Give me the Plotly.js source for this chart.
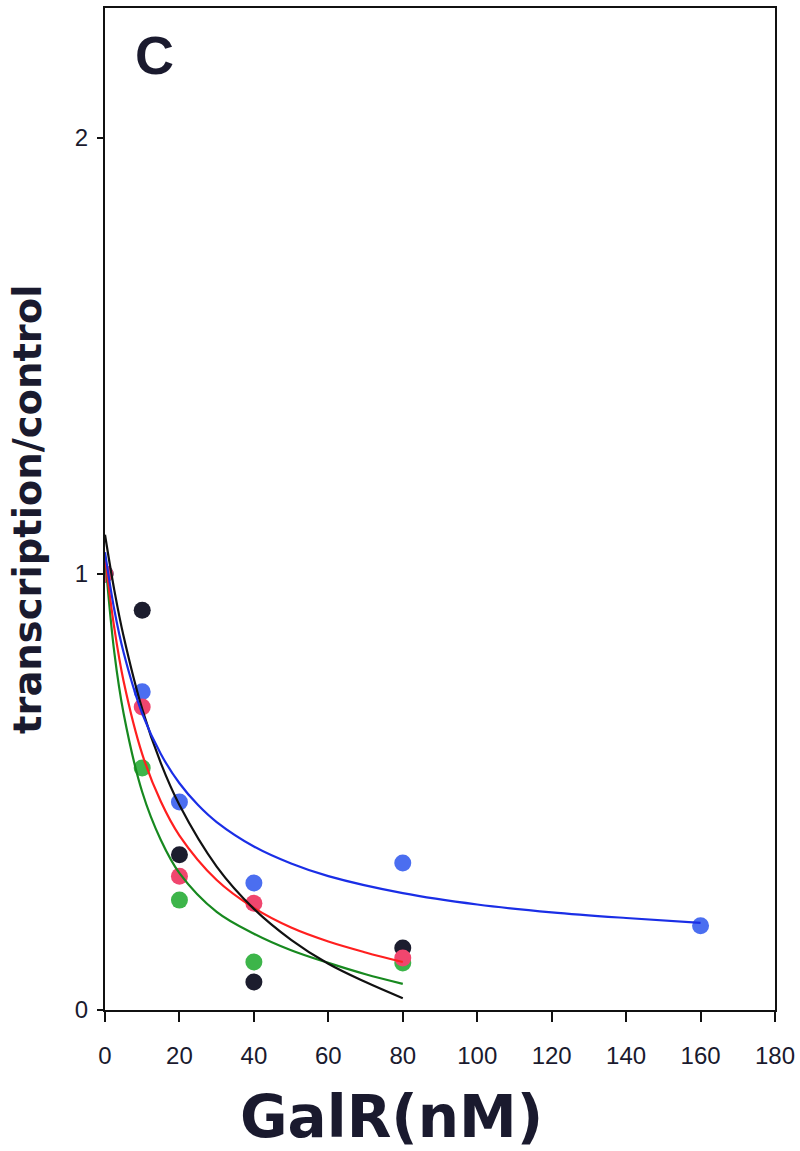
<!DOCTYPE html>
<html>
<head>
<meta charset="utf-8">
<script src="https://cdn.plot.ly/plotly-3.0.1.min.js"></script>
<style>html,body{margin:0;padding:0;background:#fff;}#chart{width:800px;height:1151px;}</style>
</head>
<body>
<div id="chart"></div>
<script>
// Measured data points (GalR concentration, nM)
var doseX = [0, 10, 20, 40, 80];
var doseXBlue = [0, 10, 20, 40, 80, 160];
var blueY  = [1.0, 0.73, 0.477, 0.291, 0.337, 0.193];
var redY   = [1.0, 0.695, 0.307, 0.245, 0.119];
var blackY = [1.0, 0.917, 0.356, 0.064, 0.142];
var greenY = [1.0, 0.555, 0.252, 0.110, 0.108];

// Fitted curves
var blueCurveX  = [0, 2.5, 5, 10, 15, 20, 25, 30, 40, 50, 60, 80, 100, 120, 140, 160];
var blueCurveY  = [1.05, 0.918, 0.82, 0.68, 0.587, 0.52, 0.47, 0.431, 0.375, 0.336, 0.307, 0.268, 0.242, 0.224, 0.211, 0.200];
var redCurveX   = [0, 2.5, 5, 10, 15, 20, 30, 40, 50, 60, 70, 80];
var redCurveY   = [1.04, 0.876, 0.754, 0.587, 0.478, 0.40, 0.298, 0.234, 0.189, 0.157, 0.132, 0.110];
var blackCurveX = [0, 2.5, 5, 10, 15, 20, 30, 40, 50, 60, 70, 80];
var blackCurveY = [1.09, 0.963, 0.857, 0.69, 0.566, 0.47, 0.329, 0.232, 0.161, 0.106, 0.064, 0.027];
var greenCurveX = [0, 2.5, 5, 10, 15, 20, 30, 40, 50, 60, 70, 80];
var greenCurveY = [1.04, 0.82, 0.68, 0.50, 0.39, 0.314, 0.225, 0.175, 0.137, 0.108, 0.082, 0.060];

var xTicks = [0, 20, 40, 60, 80, 100, 120, 140, 160, 180];
var yTicks = [0, 1, 2];

var mk = function (x, y, col) {
  return {x: x, y: y, mode: 'markers', type: 'scatter', hoverinfo: 'skip',
    marker: {size: 17, color: col, line: {width: 0}}};
};
var ln = function (x, y, col) {
  return {x: x, y: y, mode: 'lines', type: 'scatter', hoverinfo: 'skip',
    line: {color: col, width: 2.2, shape: 'spline', smoothing: 1}};
};

var data = [
  mk(doseX, greenY, '#3db54a'),
  mk(doseX, blackY, '#1c1d2e'),
  mk(doseXBlue, blueY, '#4b6ef0'),
  mk(doseX, redY, '#f0466e'),
  ln(greenCurveX, greenCurveY, '#17891f'),
  ln(redCurveX, redCurveY, '#ff1f1f'),
  ln(blackCurveX, blackCurveY, '#111111'),
  ln(blueCurveX, blueCurveY, '#1a2ee6')
];

var txt = '#1a1a2e';
var layout = {
  width: 800, height: 1151,
  margin: {l: 105, r: 25, t: 8, b: 141},
  paper_bgcolor: '#fff', plot_bgcolor: '#fff',
  showlegend: false,
  font: {family: 'Liberation Sans, Arial, sans-serif', color: txt},
  xaxis: {
    range: [0, 180], tickvals: xTicks, ticktext: xTicks.map(String),
    ticks: 'outside', ticklen: 10, tickwidth: 2, tickcolor: '#111',
    showline: true, linewidth: 2, linecolor: '#111', mirror: true,
    showgrid: false, zeroline: false, ticklabelstandoff: 13,
    tickfont: {size: 24, color: txt, family: 'Liberation Sans, Arial, sans-serif'}
  },
  yaxis: {
    range: [0, 2.298], tickvals: yTicks, ticktext: yTicks.map(String),
    ticks: 'outside', ticklen: 6, tickwidth: 2, tickcolor: '#111',
    showline: true, linewidth: 2, linecolor: '#111', mirror: true,
    showgrid: false, zeroline: false, ticklabelstandoff: 4,
    tickfont: {size: 24, color: txt, family: 'Liberation Sans, Arial, sans-serif'}
  },
  annotations: [
    {text: '<b>C</b>', xref: 'paper', yref: 'paper', x: (154 - 105) / 670, y: (1010 - 55) / 1002,
     xanchor: 'center', yanchor: 'middle', showarrow: false,
     font: {size: 54, color: txt, family: 'Liberation Sans, Arial, sans-serif'}},
    {text: '<b>GalR(nM)</b>', xref: 'paper', yref: 'paper', x: (391 - 105) / 670, y: (1010 - 1117) / 1002,
     xanchor: 'center', yanchor: 'middle', showarrow: false,
     font: {size: 58, color: txt, family: 'DejaVu Sans, sans-serif'}},
    {text: '<b>transcription/control</b>', xref: 'paper', yref: 'paper', x: (27 - 105) / 670, y: (1010 - 509) / 1002,
     xanchor: 'center', yanchor: 'middle', showarrow: false, textangle: -90,
     font: {size: 38.5, color: txt, family: 'DejaVu Sans, sans-serif'}}
  ]
};

Plotly.newPlot('chart', data, layout, {staticPlot: true, displayModeBar: false});
</script>
</body>
</html>
